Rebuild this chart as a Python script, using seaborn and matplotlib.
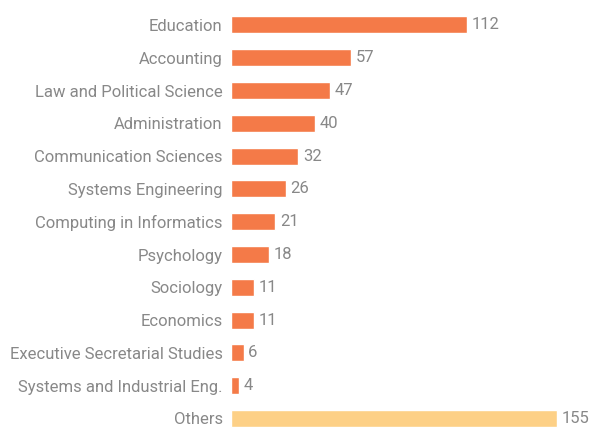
import matplotlib.pyplot as plt
import seaborn as sns
import pandas as pd

# chart values
careers = ['Education', 'Accounting', 'Law and Political Science', 'Administration',
           'Communication Sciences', 'Systems Engineering', 'Computing in Informatics',
           'Psychology', 'Sociology', 'Economics', 'Executive Secretarial Studies',
           'Systems and Industrial Eng.', 'Others']
counts = [112, 57, 47, 40, 32, 26, 21, 18, 11, 11, 6, 4, 155]
groups = ['main'] * 12 + ['others']

df = pd.DataFrame({'career': careers, 'count': counts, 'group': groups})

sns.set_style('white')
plt.rcParams['font.family'] = ['Roboto', 'DejaVu Sans']

grey = '#888888'
fig = plt.figure(figsize=(5.91, 4.28), dpi=100)
ax = fig.add_axes([231 / 591, 0, 360 / 591, 1])

sns.barplot(data=df, y='career', x='count', hue='group', orient='h',
            palette={'main': '#f47a48', 'others': '#fdd086'}, saturation=1,
            dodge=False, width=0.52, legend=False, ax=ax)

for i, v in enumerate(counts):
    ax.text(v + 2.2, i, str(v), va='center', ha='left', fontsize=12,
            color=grey)

ax.set_xlim(0, 171)
ax.set_ylim(12.29, -0.76)
ax.set_xlabel('')
ax.set_ylabel('')
ax.set_xticks([])
ax.tick_params(axis='y', length=0, pad=6, labelsize=12, labelcolor=grey)
sns.despine(ax=ax, left=True, bottom=True)

fig.savefig('out.png', dpi=100)
